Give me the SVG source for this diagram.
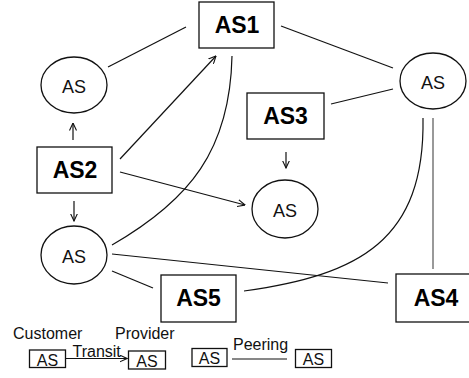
<svg xmlns="http://www.w3.org/2000/svg" width="469" height="378" viewBox="0 0 469 378">
<style>
.box{fill:#fff;stroke:#111;stroke-width:1.3}
.ell{fill:#fff;stroke:#111;stroke-width:1.3}
.big{font-family:"Liberation Sans",Arial,sans-serif;font-weight:bold;font-size:23px;fill:#000;text-anchor:middle}
.sm{font-family:"Liberation Sans",Arial,sans-serif;font-size:18px;fill:#111;text-anchor:middle}
.lg{font-family:"Liberation Sans",Arial,sans-serif;font-size:16px;fill:#111}
.ln{fill:none;stroke:#111;stroke-width:1.2}
.gr{fill:none;stroke:#777;stroke-width:1.5}
</style>
<defs>
<marker id="ah" viewBox="0 0 8 8" refX="7.5" refY="4" markerWidth="8" markerHeight="8" markerUnits="userSpaceOnUse" orient="auto">
<path d="M0,0.5 L7.5,4 L0,7.5" fill="none" stroke="#111" stroke-width="1.1"/>
</marker>
</defs>
<g id="connectors">
<line class="ln" x1="186" y1="27" x2="108" y2="67"/>
<line class="ln" x1="281" y1="26" x2="393" y2="68"/>
<line class="ln" x1="331" y1="104" x2="393" y2="89"/>
<line class="gr" x1="433" y1="118" x2="433" y2="269"/>
<path class="ln" d="M423,118 C425,240 360,275 244,291"/>
<path class="ln" d="M232,56 C230,150 190,200 112,245"/>
<line class="ln" x1="120" y1="159" x2="216" y2="56" marker-end="url(#ah)"/>
<line class="ln" x1="120" y1="172" x2="245" y2="205" marker-end="url(#ah)"/>
<line class="ln" x1="73" y1="140" x2="73" y2="123" marker-end="url(#ah)"/>
<line class="ln" x1="74" y1="201" x2="74" y2="221" marker-end="url(#ah)"/>
<line class="ln" x1="286" y1="152" x2="286" y2="168" marker-end="url(#ah)"/>
<line class="ln" x1="112" y1="254" x2="388" y2="283"/>
<line class="ln" x1="112" y1="271" x2="153" y2="288"/>
<line class="ln" x1="66" y1="358.5" x2="127" y2="358.5" marker-end="url(#ah)"/>
<line class="ln" x1="232" y1="359" x2="287" y2="359"/>
</g>
<g id="AS1"><rect class="box" x="199" y="2" width="75" height="46"/><text class="big" x="237" y="33">AS1</text></g>
<g id="AS2"><rect class="box" x="37" y="147" width="75" height="46"/><text class="big" x="75" y="178">AS2</text></g>
<g id="AS3"><rect class="box" x="247" y="93" width="77" height="46"/><text class="big" x="285.5" y="124">AS3</text></g>
<g id="AS4"><rect class="box" x="396" y="274" width="80" height="48"/><text class="big" x="436" y="306">AS4</text></g>
<g id="AS5"><rect class="box" x="161" y="275" width="75" height="47"/><text class="big" x="198.5" y="306">AS5</text></g>
<g id="AS-topleft"><ellipse class="ell" cx="74" cy="85" rx="33" ry="28"/><text class="sm" x="74" y="93">AS</text></g>
<g id="AS-right"><ellipse class="ell" cx="433" cy="81" rx="33" ry="28"/><text class="sm" x="433" y="89">AS</text></g>
<g id="AS-mid"><ellipse class="ell" cx="285" cy="209" rx="33" ry="29"/><text class="sm" x="285" y="217">AS</text></g>
<g id="AS-bottomleft"><ellipse class="ell" cx="74" cy="255" rx="33" ry="29"/><text class="sm" x="74" y="263">AS</text></g>
<g id="legend">
<text class="lg" x="13" y="339">Customer</text>
<text class="lg" x="115" y="339">Provider</text>
<text class="lg" x="72.5" y="357">Transit</text>
<text class="lg" x="233" y="350">Peering</text>
<rect class="box" x="29.5" y="350" width="36" height="17.5"/><text class="lg" x="47.5" y="365.5" text-anchor="middle">AS</text>
<rect class="box" x="128.5" y="351" width="37" height="18"/><text class="lg" x="147" y="366.5" text-anchor="middle">AS</text>
<rect class="box" x="192" y="348.5" width="35" height="18"/><text class="lg" x="209.5" y="364" text-anchor="middle">AS</text>
<rect class="box" x="295.5" y="349.5" width="36" height="18"/><text class="lg" x="313.5" y="365" text-anchor="middle">AS</text>
</g>
</svg>
